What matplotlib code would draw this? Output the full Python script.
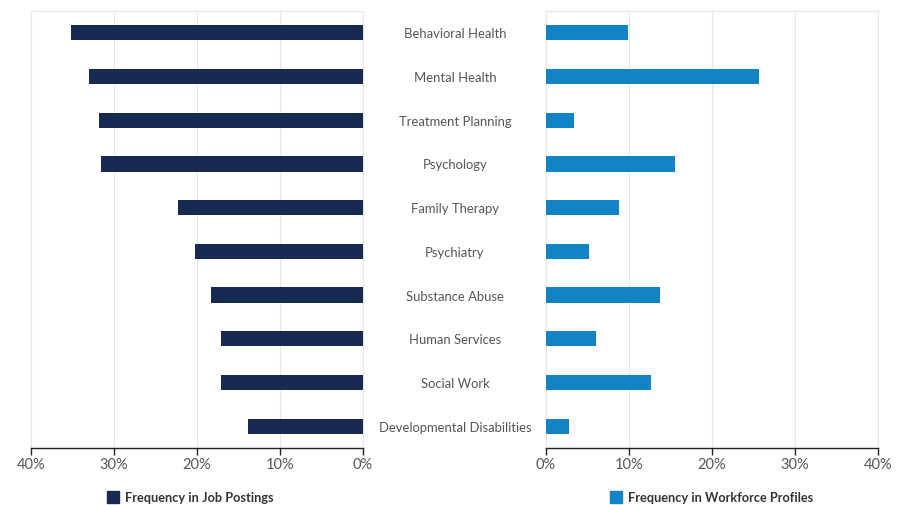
import matplotlib
matplotlib.use("Agg")
import matplotlib.pyplot as plt
from matplotlib.patches import Rectangle
from matplotlib.ticker import FuncFormatter, MultipleLocator

plt.rcParams['font.family'] = ['Lato', 'DejaVu Sans']

categories = ["Behavioral Health", "Mental Health", "Treatment Planning", "Psychology",
              "Family Therapy", "Psychiatry", "Substance Abuse", "Human Services",
              "Social Work", "Developmental Disabilities"]
job_postings = [35.2, 33.0, 31.8, 31.6, 22.3, 20.2, 18.3, 17.1, 17.1, 13.8]
workforce_profiles = [9.9, 25.7, 3.4, 15.5, 8.8, 5.2, 13.7, 6.0, 12.7, 2.8]
series_names = ["Frequency in Job Postings", "Frequency in Workforce Profiles"]
colors = ["#172a52", "#1284c6"]

W, H = 907, 505
fig = plt.figure(figsize=(W / 100, H / 100), dpi=100)

def px_axes(x0, x1, ytop, ybot):
    return fig.add_axes([x0 / W, 1 - ybot / H, (x1 - x0) / W, (ybot - ytop) / H])

axL = px_axes(31, 363, 11, 448)
axR = px_axes(546, 878, 11, 448)

ypos = list(range(len(categories)))
axL.barh(ypos, job_postings, height=0.35, color=colors[0], zorder=3)
axR.barh(ypos, workforce_profiles, height=0.35, color=colors[1], zorder=3)

fmt = FuncFormatter(lambda v, p: f"{v:.0f}%")
for ax in (axL, axR):
    ax.set_ylim(len(categories) - 0.5, -0.5)
    ax.set_xlim(0, 40)
    ax.xaxis.set_major_locator(MultipleLocator(10))
    ax.xaxis.set_major_formatter(fmt)
    ax.set_yticks([])
    ax.grid(axis='x', color='#e6e6e6', linewidth=0.8, zorder=0)
    for s in ('top', 'left', 'right'):
        ax.spines[s].set_color('#e6e6e6')
        ax.spines[s].set_linewidth(0.8)
    ax.spines['bottom'].set_color('#222222')
    ax.spines['bottom'].set_linewidth(1.0)
    ax.tick_params(axis='x', colors='#222222', labelcolor='#555555', labelsize=10.5,
                   length=5, width=1.0, direction='out', pad=2)
axL.invert_xaxis()

# category labels in the middle
for i, c in enumerate(categories):
    y = 1 - (11 + 1.5 + (448 - 11) * (i + 0.5) / len(categories)) / H
    fig.text(455 / W, y, c, ha='center', va='center', fontsize=9.4, color='#555555')

# legends
for (sq_x, tx_x, name, col) in [(107, 125, series_names[0], colors[0]),
                                (610, 628, series_names[1], colors[1])]:
    fig.patches.append(Rectangle((sq_x / W, 1 - 503 / H), 12 / W, 12 / H,
                                 transform=fig.transFigure, color=col, figure=fig))
    fig.text(tx_x / W, 1 - 497.5 / H, name, ha='left', va='center', fontsize=9.2,
             color='#333333', fontweight='bold')

fig.savefig("out.png", dpi=100)
